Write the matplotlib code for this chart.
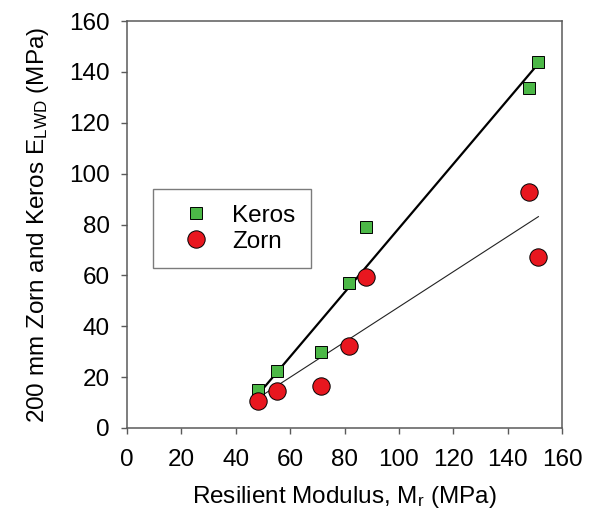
import numpy as np
import matplotlib
matplotlib.use("Agg")
import matplotlib.pyplot as plt

plt.rcParams["font.family"] = ["Liberation Sans", "DejaVu Sans"]
plt.rcParams["mathtext.fontset"] = "custom"
plt.rcParams["mathtext.rm"] = "Liberation Sans"
plt.rcParams["mathtext.it"] = "Liberation Sans:italic"

# -----------------------------
# Data
# -----------------------------
mr = [48.1, 55.3, 71.2, 81.8, 87.8, 148.0, 151.3]
keros = [14.9, 22.4, 30.0, 56.9, 79.1, 133.5, 144.0]
zorn = [10.6, 14.7, 16.6, 32.2, 59.5, 92.6, 67.3]

# fitted lines (end points)
keros_fit_x = [48.1, 151.3]
keros_fit_y = [13.0, 143.3]
zorn_fit_x = [48.1, 151.3]
zorn_fit_y = [11.7, 83.1]

ticks = [0, 20, 40, 60, 80, 100, 120, 140, 160]

green = "#4CB847"
red = "#E8171F"
spine_col = "#5a5a5a"
fs = 17.5

fig = plt.figure(figsize=(5.93, 5.23), dpi=100)
ax = fig.add_axes([0.2142, 0.1817, 0.7336, 0.778])

ax.plot(keros_fit_x, keros_fit_y, color="black", linewidth=1.6, zorder=2)
ax.plot(zorn_fit_x, zorn_fit_y, color="#222222", linewidth=0.8, zorder=2)

ax.plot(mr, keros, linestyle="none", marker="s", markersize=8.5,
        markerfacecolor=green, markeredgecolor="black", markeredgewidth=0.7,
        label="Keros", zorder=3)
ax.plot(mr, zorn, linestyle="none", marker="o", markersize=12.5,
        markerfacecolor=red, markeredgecolor="black", markeredgewidth=0.7,
        label="Zorn", zorder=4)

ax.set_xlim(0, 160)
ax.set_ylim(0, 160)
ax.set_xticks(ticks)
ax.set_yticks(ticks)

for s in ax.spines.values():
    s.set_color(spine_col)
    s.set_linewidth(1.1)

ax.tick_params(axis="both", direction="out", length=4.5, width=1.0,
               color=spine_col, labelsize=fs, pad=8)
ax.tick_params(axis="x", pad=11)

ax.set_xlabel("Resilient Modulus, M$_\\mathrm{r}$ (MPa)", fontsize=fs, labelpad=9)
ax.set_ylabel("200 mm Zorn and Keros E$_\\mathrm{LWD}$ (MPa)", fontsize=fs, labelpad=13)

leg = ax.legend(loc="upper left", bbox_to_anchor=(0.06, 0.587), fontsize=fs,
                frameon=True, fancybox=False, borderpad=0.65, handletextpad=0.4,
                handlelength=2.2, labelspacing=0.15, borderaxespad=0)
leg.get_frame().set_edgecolor(spine_col)
leg.get_frame().set_linewidth(1.0)

fig.savefig("out.png", dpi=100)
